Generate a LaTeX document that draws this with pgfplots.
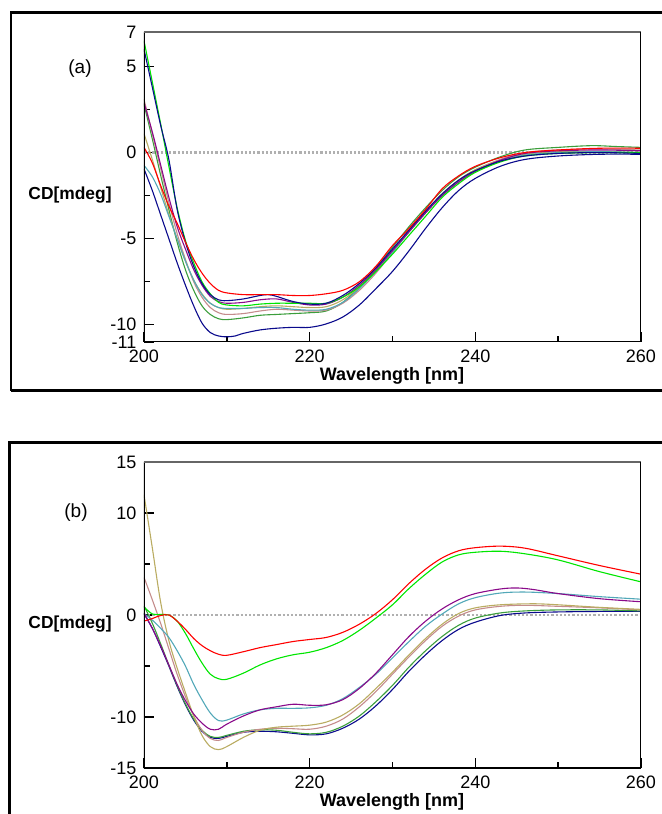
\documentclass[border=0pt]{standalone}
\usepackage{pgfplots}
\pgfplotsset{compat=1.18}
\usepackage{fontspec}
\setmainfont{Liberation Sans}
\definecolor{cred}{HTML}{FF0000}
\definecolor{cgreen}{HTML}{00E600}
\definecolor{cnavy}{HTML}{0A0A8C}
\definecolor{cpurple}{HTML}{8A0A8A}
\definecolor{ccyan}{HTML}{52A8B8}
\definecolor{colive}{HTML}{BAAC62}
\definecolor{crosy}{HTML}{C48C8C}
\definecolor{cdgreen}{HTML}{3C9E3C}
\definecolor{zline}{HTML}{B0B0B0}
\pgfplotsset{
  cdax/.style={
    scale only axis,
    width=248.5pt,
    xmin=200, xmax=260,
    axis line style={draw=none},
    tick align=inside,
    xtick pos=bottom, ytick pos=left,
    xtick={200,220,240,260},
    minor xtick={210,230,250},
    major tick length=5pt,
    minor tick length=3.2pt,
    every tick/.style={black, line width=0.7pt},
    tick label style={font=\fontsize{9}{10}\selectfont},
    /pgf/number format/assume math mode=true,
    yticklabel style={xshift=-0.3pt},
    xticklabel style={yshift=-0.3pt},
    every axis plot/.append style={line width=0.55pt, smooth, tension=0.55},
  }
}
\begin{document}
\begin{tikzpicture}[x=1pt,y=1pt]
\useasboundingbox (0,0) rectangle (331,407);
\begin{scope}
\clip (0,0) rectangle (331,407);
\draw[line width=1.4pt] (5.5,211.6) -- (5.5,400.6) -- (345,400.6);
\draw[line width=1.4pt] (5.5,211.6) -- (345,211.6);
\draw[line width=1.4pt] (4.6,-10) -- (4.6,185.6) -- (345,185.6);
\end{scope}
% ---------------- (a) ----------------
\begin{axis}[cdax, at={(72pt,236pt)}, anchor=south west, height=155pt,
  ymin=-11, ymax=7,
  ytick={-11,-10,-5,0,5,7},
  minor ytick={-7.5,-2.5,2.5},
]
\addplot[zline, line width=1.1pt, densely dotted, sharp plot] coordinates {(200,0) (260,0)};
% dark green
\addplot[cdgreen] coordinates {(200,2.8) (201,0.8) (202,-1.3) (203,-3.3) (204,-5.2) (205,-6.8) (206,-8.0) (207,-8.9) (208,-9.4) (209,-9.65) (210,-9.7) (212,-9.6) (214,-9.45) (216,-9.4) (218,-9.35) (220,-9.3) (222,-9.2) (224,-8.7) (226,-7.8) (228,-6.7) (230,-5.5) (232,-4.3) (234,-3.2) (236,-2.2) (238,-1.4) (240,-0.85) (243,-0.25) (246,0.15) (250,0.3) (254,0.4) (257,0.35) (260,0.3)};
% rosy
\addplot[crosy] coordinates {(200,3.1) (201,1.1) (202,-0.9) (203,-2.9) (204,-4.7) (205,-6.2) (206,-7.5) (207,-8.4) (208,-9.0) (209,-9.3) (210,-9.4) (212,-9.35) (214,-9.2) (216,-9.1) (218,-9.15) (220,-9.2) (222,-9.15) (224,-8.75) (226,-8.0) (228,-7.0) (230,-5.8) (232,-4.6) (234,-3.5) (236,-2.4) (238,-1.6) (240,-1.0) (243,-0.4) (246,0.0) (250,0.15) (255,0.2) (260,0.15)};
% olive
\addplot[colive] coordinates {(200,1.1) (201,-0.4) (202,-2.0) (203,-3.6) (204,-5.0) (205,-6.3) (206,-7.4) (207,-8.2) (208,-8.75) (209,-9.0) (210,-9.1) (212,-9.05) (214,-8.95) (216,-8.9) (218,-8.95) (220,-9.0) (222,-8.95) (224,-8.55) (226,-7.8) (228,-6.8) (230,-5.7) (232,-4.5) (234,-3.4) (236,-2.4) (238,-1.6) (240,-1.0) (243,-0.45) (246,-0.1) (250,0.05) (255,0.05) (260,0.0)};
% cyan
\addplot[ccyan] coordinates {(200,-0.75) (201,-1.4) (202,-2.4) (203,-3.7) (204,-5.0) (205,-6.3) (206,-7.4) (207,-8.25) (208,-8.75) (209,-9.0) (210,-9.05) (212,-9.05) (214,-9.0) (216,-9.0) (218,-9.1) (220,-9.15) (222,-9.1) (224,-8.7) (226,-7.9) (228,-6.9) (230,-5.8) (232,-4.6) (234,-3.5) (236,-2.5) (238,-1.7) (240,-1.1) (243,-0.5) (246,-0.15) (250,0.0) (255,0.05) (260,0.0)};
% purple
\addplot[cpurple] coordinates {(200,2.9) (201,1.2) (202,-0.7) (203,-2.6) (204,-4.3) (205,-5.6) (206,-6.8) (207,-7.7) (208,-8.35) (209,-8.65) (210,-8.75) (212,-8.7) (214,-8.55) (216,-8.5) (218,-8.7) (220,-8.85) (222,-8.8) (224,-8.4) (226,-7.7) (228,-6.8) (230,-5.7) (232,-4.6) (234,-3.5) (236,-2.5) (238,-1.7) (240,-1.1) (243,-0.45) (246,-0.05) (250,0.1) (255,0.15) (260,0.1)};
% navy low
\addplot[cnavy] coordinates {(200,-0.95) (201,-2.2) (202,-3.6) (203,-5.0) (204,-6.4) (205,-7.7) (206,-8.9) (207,-9.9) (208,-10.45) (209,-10.65) (210,-10.7) (211,-10.65) (212,-10.5) (214,-10.3) (216,-10.2) (218,-10.15) (220,-10.15) (222,-9.95) (224,-9.55) (226,-8.85) (228,-7.9) (230,-6.9) (232,-5.7) (234,-4.4) (236,-3.2) (238,-2.2) (240,-1.5) (243,-0.8) (246,-0.4) (250,-0.2) (255,-0.1) (260,-0.1)};
% bright green
\addplot[cgreen] coordinates {(200,6.5) (201,4.1) (202,1.7) (203,-0.8) (204,-3.2) (205,-5.1) (206,-6.4) (207,-7.5) (208,-8.2) (209,-8.7) (210,-8.85) (212,-8.9) (214,-8.8) (216,-8.75) (218,-8.75) (220,-8.75) (222,-8.75) (224,-8.4) (226,-7.8) (228,-6.9) (230,-5.9) (232,-4.8) (234,-3.7) (236,-2.6) (238,-1.8) (240,-1.15) (243,-0.55) (246,-0.2) (250,-0.05) (255,0.0) (260,0.0)};
% navy high
\addplot[cnavy] coordinates {(200,6.0) (201,3.8) (202,1.6) (203,-0.4) (204,-3.3) (205,-5.2) (206,-6.6) (207,-7.6) (208,-8.25) (209,-8.55) (210,-8.6) (212,-8.5) (214,-8.3) (215,-8.25) (216,-8.35) (218,-8.65) (220,-8.8) (222,-8.75) (224,-8.3) (226,-7.6) (228,-6.7) (230,-5.6) (232,-4.5) (234,-3.4) (236,-2.4) (238,-1.6) (240,-1.05) (243,-0.5) (246,-0.2) (250,-0.05) (255,0.0) (260,-0.05)};
% red
\addplot[cred] coordinates {(200,0.3) (201,-0.6) (202,-1.9) (203,-3.1) (204,-4.1) (205,-5.2) (206,-6.2) (207,-7.0) (208,-7.6) (209,-8.0) (210,-8.15) (212,-8.25) (214,-8.25) (216,-8.25) (218,-8.3) (220,-8.3) (222,-8.2) (224,-8.0) (226,-7.5) (228,-6.6) (230,-5.4) (232,-4.4) (234,-3.3) (236,-2.1) (238,-1.35) (240,-0.8) (243,-0.3) (246,0.0) (250,0.15) (255,0.25) (260,0.25)};
\draw[black, line width=1pt] (rel axis cs:0,1) -- (rel axis cs:0,0) -- (rel axis cs:1,0);
\draw[black!60, line width=1pt] (rel axis cs:0,1) -- (rel axis cs:1,1);
\draw[black, line width=0.7pt] (rel axis cs:1,0) -- (rel axis cs:1,1);
\end{axis}
% ---------------- (b) ----------------
\begin{axis}[cdax, at={(72pt,23pt)}, anchor=south west, height=153pt,
  ymin=-15, ymax=15,
  ytick={-15,-10,0,10,15},
  minor ytick={-5,5},
]
\addplot[zline, line width=1.1pt, densely dotted, sharp plot] coordinates {(200,0) (260,0)};
% navy
\addplot[cnavy] coordinates {(200,0.1) (201,-1.3) (202,-3.1) (203,-5.0) (204,-7.0) (205,-8.8) (206,-10.3) (207,-11.4) (208,-12.0) (209,-12.1) (210,-11.9) (212,-11.5) (214,-11.4) (216,-11.45) (218,-11.6) (220,-11.75) (222,-11.65) (224,-11.1) (226,-10.2) (228,-8.9) (230,-7.3) (232,-5.5) (234,-3.9) (236,-2.5) (238,-1.4) (240,-0.7) (243,-0.05) (246,0.2) (250,0.3) (255,0.35) (260,0.35)};
% dark green
\addplot[cdgreen] coordinates {(200,0.9) (201,-0.8) (202,-2.8) (203,-4.9) (204,-6.9) (205,-8.7) (206,-10.2) (207,-11.3) (208,-11.9) (209,-12.0) (210,-11.8) (212,-11.4) (214,-11.25) (216,-11.3) (218,-11.5) (220,-11.65) (222,-11.5) (224,-10.9) (226,-9.9) (228,-8.5) (230,-6.9) (232,-5.1) (234,-3.5) (236,-2.1) (238,-1.0) (240,-0.3) (243,0.2) (246,0.4) (250,0.5) (255,0.5) (260,0.4)};
% rosy
\addplot[crosy] coordinates {(200,3.7) (201,1.5) (202,-0.8) (203,-3.3) (204,-5.8) (205,-8.0) (206,-9.9) (207,-11.3) (208,-12.1) (209,-12.3) (210,-12.0) (212,-11.5) (214,-11.2) (216,-11.1) (218,-11.15) (220,-11.2) (222,-10.9) (224,-10.2) (226,-9.0) (228,-7.5) (230,-5.8) (232,-4.1) (234,-2.5) (236,-1.1) (238,-0.1) (240,0.5) (243,0.85) (246,0.95) (250,0.85) (255,0.7) (260,0.5)};
% olive
\addplot[colive] coordinates {(200,11.8) (201,6.6) (202,1.3) (203,-2.5) (204,-5.2) (205,-7.6) (206,-9.9) (207,-11.8) (208,-12.9) (209,-13.2) (210,-12.9) (212,-12.0) (214,-11.3) (216,-11.0) (218,-10.9) (220,-10.8) (222,-10.5) (224,-9.8) (226,-8.7) (228,-7.2) (230,-5.6) (232,-3.9) (234,-2.3) (236,-0.9) (238,0.15) (240,0.7) (243,1.0) (247,1.1) (250,1.0) (255,0.75) (260,0.55)};
% cyan
\addplot[ccyan] coordinates {(200,0.15) (201,-0.5) (202,-1.3) (203,-2.2) (204,-3.5) (205,-5.0) (206,-6.8) (207,-8.3) (208,-9.6) (209,-10.35) (210,-10.3) (212,-9.7) (214,-9.3) (216,-9.15) (218,-9.15) (220,-9.1) (222,-8.85) (224,-8.2) (226,-7.1) (228,-5.8) (230,-4.2) (232,-2.6) (234,-1.1) (236,0.1) (238,1.1) (240,1.7) (243,2.15) (246,2.25) (250,2.1) (255,1.8) (260,1.55)};
% purple
\addplot[cpurple] coordinates {(200,0.2) (201,-1.3) (202,-3.0) (203,-4.9) (204,-6.8) (205,-8.4) (206,-9.7) (207,-10.6) (208,-11.2) (209,-11.2) (210,-10.7) (212,-9.9) (214,-9.3) (216,-9.0) (218,-8.75) (220,-8.85) (222,-8.8) (224,-8.3) (226,-7.2) (228,-5.7) (230,-3.9) (232,-2.1) (234,-0.6) (236,0.6) (238,1.5) (240,2.1) (243,2.55) (245,2.65) (247,2.5) (250,2.1) (255,1.6) (260,1.3)};
% green
\addplot[cgreen] coordinates {(200,0.8) (201,0.1) (202,0.05) (203,0.0) (204,-0.6) (205,-1.8) (206,-3.3) (207,-4.7) (208,-5.8) (209,-6.25) (210,-6.3) (212,-5.7) (214,-4.9) (216,-4.3) (218,-3.9) (220,-3.65) (222,-3.2) (224,-2.5) (226,-1.5) (228,-0.3) (230,1.0) (232,2.6) (234,4.0) (236,5.2) (238,5.9) (240,6.15) (243,6.25) (246,6.0) (250,5.4) (255,4.25) (260,3.25)};
% red
\addplot[cred] coordinates {(200,-0.6) (201,-0.35) (202,-0.05) (203,0.0) (204,-0.6) (205,-1.4) (206,-2.3) (207,-3.0) (208,-3.5) (209,-3.85) (210,-3.95) (212,-3.6) (214,-3.2) (216,-2.9) (218,-2.6) (220,-2.4) (222,-2.2) (224,-1.7) (226,-0.9) (228,0.15) (230,1.5) (232,3.1) (234,4.5) (236,5.6) (238,6.3) (240,6.6) (243,6.75) (246,6.55) (250,5.8) (255,4.85) (260,4.0)};
\draw[black, line width=1pt] (rel axis cs:0,1) -- (rel axis cs:0,0) -- (rel axis cs:1,0);
\draw[black!60, line width=1pt] (rel axis cs:0,1) -- (rel axis cs:1,1);
\draw[black, line width=0.7pt] (rel axis cs:1,0) -- (rel axis cs:1,1);
\end{axis}
% labels
\node[font=\fontsize{9}{10}\selectfont\bfseries] at (196,219) {Wavelength [nm]};
\node[font=\fontsize{9}{10}\selectfont\bfseries] at (196,6) {Wavelength [nm]};
\node[font=\fontsize{8.7}{10}\selectfont\bfseries] at (35,309.5) {CD[mdeg]};
\node[font=\fontsize{8.7}{10}\selectfont\bfseries] at (35,95) {CD[mdeg]};
\node[font=\fontsize{9.5}{11}\selectfont] at (40,372.5) {(a)};
\node[font=\fontsize{9.5}{11}\selectfont] at (38,150.5) {(b)};
\end{tikzpicture}
\end{document}
